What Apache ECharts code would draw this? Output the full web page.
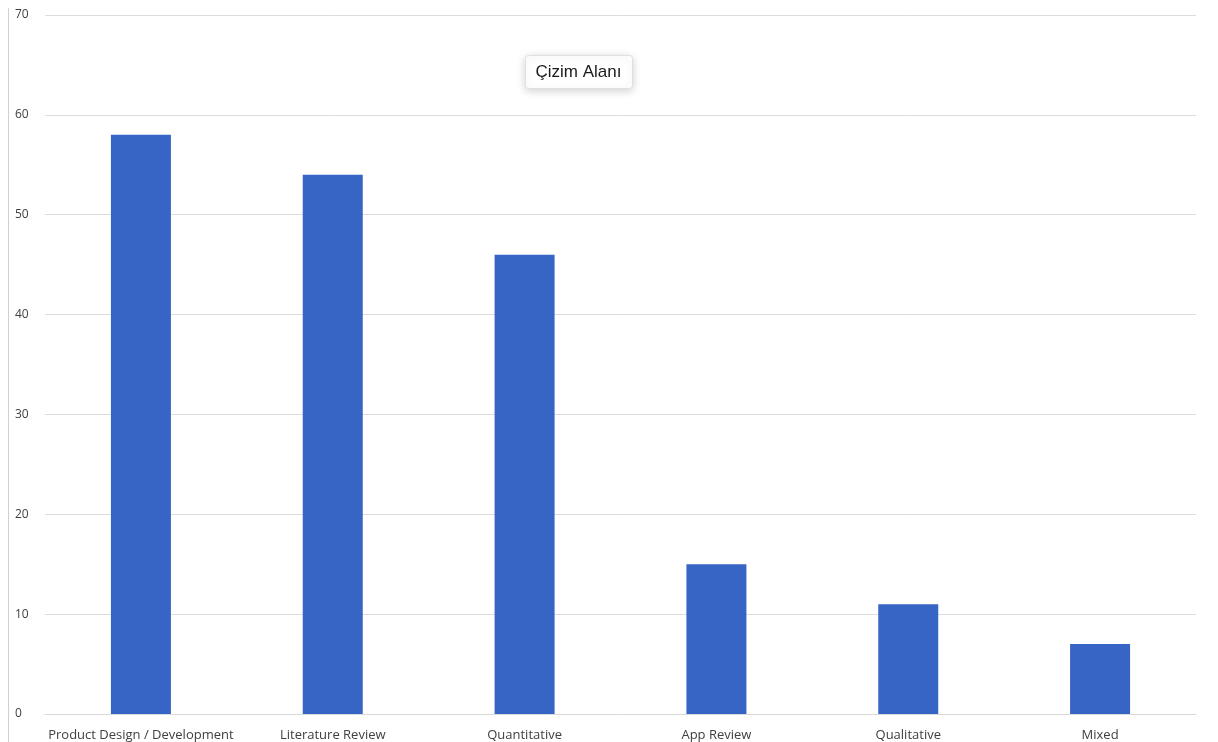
<!DOCTYPE html>
<html>
<head>
<meta charset="utf-8">
<script src="https://cdn.jsdelivr.net/npm/echarts@6/dist/echarts.min.js"></script>
<style>
  html, body { margin: 0; padding: 0; background: #fff; }
  #chart { width: 1218px; height: 742px; }
</style>
</head>
<body>
<div id="chart"></div>
<script>
// veriler
var categories = ['Product Design / Development', 'Literature Review', 'Quantitative', 'App Review', 'Qualitative', 'Mixed'];
var counts = [58, 54, 46, 15, 11, 7];
var yTicks = [0, 10, 20, 30, 40, 50, 60, 70];

var Chart = echarts.init(document.getElementById('chart'));
var option = {
  backgroundColor: '#ffffff',
  animation: false,
  grid: {
    left: 45,
    right: 22,
    top: 15,
    bottom: 28
  },
  xAxis: {
    type: 'category',
    data: categories,
    axisLine: { show: true, lineStyle: { color: '#d9d9d9', width: 1 } },
    axisTick: { show: false },
    axisLabel: {
      interval: 0,
      color: '#404040',
      fontFamily: 'Open Sans',
      fontSize: 13,
      margin: 15
    }
  },
  yAxis: {
    type: 'value',
    min: yTicks[0],
    max: yTicks[yTicks.length - 1],
    interval: 10,
    axisLine: { show: false },
    axisTick: { show: false },
    splitLine: { lineStyle: { color: '#dcdcdc', width: 1 } },
    axisLabel: {
      color: '#404040',
      fontFamily: 'Open Sans',
      fontSize: 12,
      align: 'left',
      margin: 30
    }
  },
  series: [{
    type: 'bar',
    data: counts,
    barWidth: 60,
    itemStyle: { color: '#3765c5' }
  }],
  graphic: [
    {
      type: 'line',
      shape: { x1: 8.5, y1: 8, x2: 8.5, y2: 742 },
      style: { stroke: '#d0d0d0', lineWidth: 1 }
    },
    {
      type: 'rect',
      left: 525,
      top: 55,
      shape: { width: 107, height: 33, r: 3 },
      style: {
        fill: '#ffffff',
        stroke: '#e0e0e0',
        lineWidth: 1,
        shadowBlur: 8,
        shadowColor: 'rgba(0,0,0,0.18)',
        shadowOffsetY: 2
      }
    },
    {
      type: 'text',
      x: 578.5,
      y: 72,
      style: {
        text: 'Çizim Alanı',
        fill: '#1a1a1a',
        align: 'center',
        verticalAlign: 'middle',
        font: '17px "Liberation Sans", Arial, sans-serif'
      }
    }
  ]
};
Chart.setOption(option);
</script>
</body>
</html>
